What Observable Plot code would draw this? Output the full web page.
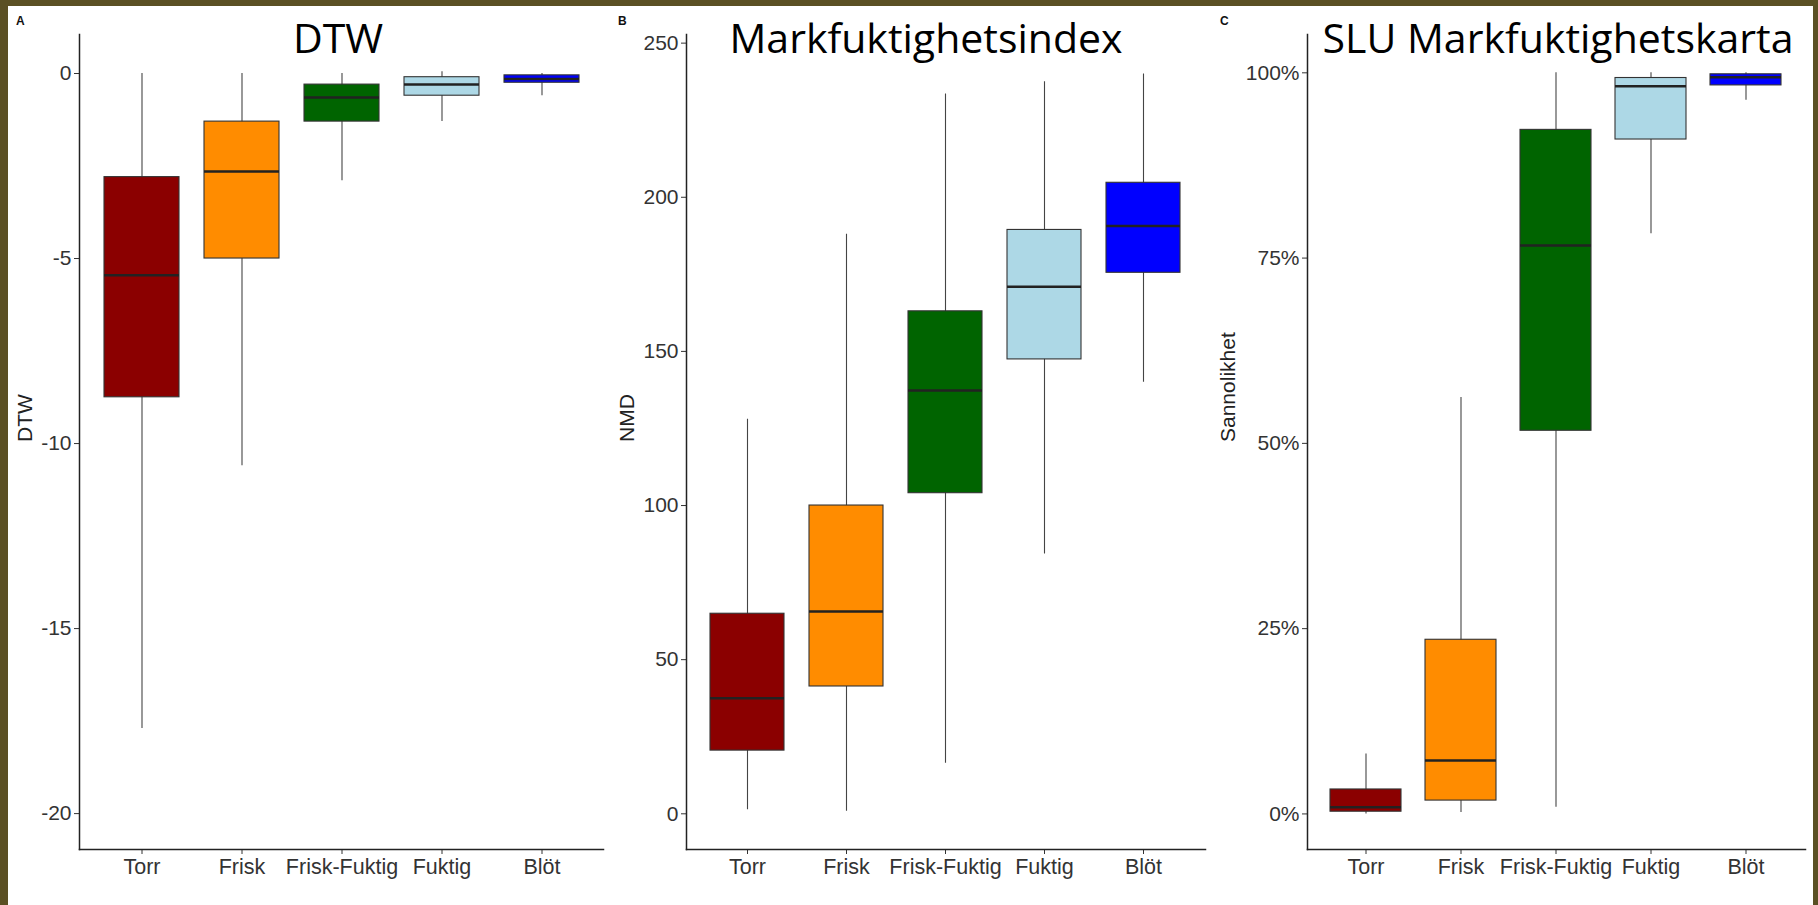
<!DOCTYPE html>
<html><head><meta charset="utf-8">
<script src="https://cdn.jsdelivr.net/npm/d3@7"></script>
<script src="https://cdn.jsdelivr.net/npm/@observablehq/plot@0.6"></script>
<style>
html,body{margin:0;padding:0;}
body{width:1818px;height:905px;background:#5b5024;overflow:hidden;position:relative;}
#sheet{position:absolute;left:8px;top:6px;width:1805px;height:899px;background:#fff;}
.panel{position:absolute;top:0;}
#overlay{position:absolute;left:0;top:0;pointer-events:none;}
</style></head><body>
<div id="sheet"></div>
<div id="pa" class="panel" style="left:0px"></div>
<div id="pb" class="panel" style="left:606px"></div>
<div id="pc" class="panel" style="left:1212px"></div>
<svg id="overlay" width="1818" height="905"></svg>
<script>
// ---- data ----
const categories = ["Torr", "Frisk", "Frisk-Fuktig", "Fuktig", "Blöt"];
const boxColors = ["#8B0000", "#FF8C00", "#006400", "#ADD8E6", "#0000FF"];

const panelTitles = ["DTW", "Markfuktighetsindex", "SLU Markfuktighetskarta"];
const panelLetters = ["A", "B", "C"];
const yLabels = ["DTW", "NMD", "Sannolikhet"];

// DTW
const dtwMin = [-17.7, -10.6, -2.9, -1.3, -0.6];
const dtwQ1  = [-8.75, -5.0, -1.3, -0.6, -0.25];
const dtwMed = [-5.45, -2.65, -0.65, -0.3, -0.15];
const dtwQ3  = [-2.8, -1.3, -0.3, -0.1, -0.05];
const dtwMax = [0, 0, 0, 0.05, 0];
const dtwTicks = [0, -5, -10, -15, -20];

// NMD (Markfuktighetsindex)
const nmdMin = [1.3, 0.8, 16.4, 84.3, 140];
const nmdQ1  = [20.5, 41.3, 104, 147.4, 175.5];
const nmdMed = [37.5, 65.6, 137.3, 171, 190.7];
const nmdQ3  = [64.9, 100, 163, 189.4, 204.7];
const nmdMax = [128, 188, 233.5, 237.5, 240];
const nmdTicks = [0, 50, 100, 150, 200, 250];

// SLU Markfuktighetskarta (Sannolikhet, %)
const sluMin = [0, 0.2, 0.9, 78.3, 96.3];
const sluQ1  = [0.3, 1.8, 51.7, 91, 98.3];
const sluMed = [0.9, 7.2, 76.7, 98.2, 99.4];
const sluQ3  = [3.3, 23.5, 92.3, 99.3, 99.8];
const sluMax = [8.1, 56.2, 100, 100, 100];
const sluTicks = [0, 25, 50, 75, 100];

function rowsOf(mn, q1, md, q3, mx) {
  return categories.map((c, i) => ({cat: c, min: mn[i], q1: q1[i], med: md[i], q3: q3[i], max: mx[i]}));
}

function panel(el, {width, mL, mR, domain, ticks, fmt, label, labelOffset, rows}) {
  const chart = Plot.plot({
    width, height: 905,
    marginTop: 34, marginBottom: 56, marginLeft: mL, marginRight: mR,
    style: {background: "transparent", fontFamily: "'Liberation Sans', Arial, sans-serif", color: "#333", overflow: "visible"},
    x: {domain: categories, paddingInner: 0.25, paddingOuter: 0.225, label: null},
    y: {domain, label: null},
    color: {domain: categories, range: boxColors},
    marks: [
      Plot.ruleX(rows, {x: "cat", y1: "min", y2: "max", stroke: "#444", strokeWidth: 1.1}),
      Plot.barY(rows, {x: "cat", y1: "q1", y2: "q3", fill: "cat", stroke: "#333", strokeWidth: 1.1}),
      Plot.tickY(rows, {x: "cat", y: "med", stroke: "#222", strokeWidth: 2.5}),
      Plot.axisY({ticks, tickFormat: fmt, tickSize: 5, tickPadding: 3, fontSize: 21, label: null}),
      Plot.axisX({tickSize: 5, tickPadding: 4, fontSize: 21.5, label: null}),
      Plot.frame({anchor: "left", stroke: "#222", strokeWidth: 1.5}),
      Plot.frame({anchor: "bottom", stroke: "#222", strokeWidth: 1.5}),
      Plot.text([label], {text: d => d, frameAnchor: "left", rotate: -90, dx: -labelOffset, fontSize: 21, fill: "#222"})
    ]
  });
  document.getElementById(el).appendChild(chart);
}

panel("pa", {width: 606, mL: 79, mR: 3, domain: [-20.97, 1.054], ticks: dtwTicks, fmt: d => String(d),
  label: yLabels[0], labelOffset: 54, rows: rowsOf(dtwMin, dtwQ1, dtwMed, dtwQ3, dtwMax)});
panel("pb", {width: 606, mL: 80, mR: 7, domain: [-11.58, 252.8], ticks: nmdTicks, fmt: d => String(d),
  label: yLabels[1], labelOffset: 59, rows: rowsOf(nmdMin, nmdQ1, nmdMed, nmdQ3, nmdMax)});
panel("pc", {width: 606, mL: 95, mR: 13, domain: [-4.8, 105.17], ticks: sluTicks, fmt: d => d + "%",
  label: yLabels[2], labelOffset: 79, rows: rowsOf(sluMin, sluQ1, sluMed, sluQ3, sluMax)});

// titles and panel letters
const ov = d3.select("#overlay");
const titleX = [338, 926, 1558];
const letterX = [16, 618, 1220];
panelTitles.forEach((t, i) => {
  ov.append("text").attr("x", titleX[i]).attr("y", 53).attr("text-anchor", "middle")
    .attr("font-family", "'Open Sans', sans-serif").attr("font-size", 41).attr("fill", "#000").text(t);
  ov.append("text").attr("x", letterX[i]).attr("y", 25)
    .attr("font-family", "'Liberation Sans', Arial, sans-serif").attr("font-weight", "bold")
    .attr("font-size", 12).attr("fill", "#111").text(panelLetters[i]);
});
</script>
</body></html>
